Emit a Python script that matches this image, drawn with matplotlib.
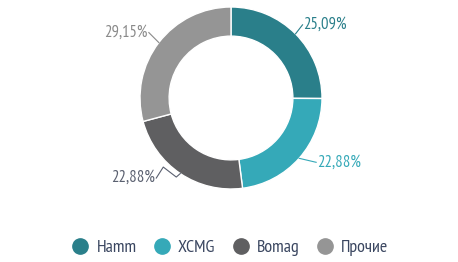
import numpy as np
import matplotlib.pyplot as plt
from matplotlib.lines import Line2D

# Market share data
brands = ["Hamm", "XCMG", "Bomag", "Прочие"]
shares = [25.09, 22.88, 22.88, 29.15]
labels = ["25,09%", "22,88%", "22,88%", "29,15%"]
colors = ["#2a7f8a", "#35a9b8", "#5f5f61", "#959595"]
label_colors = ["#2a7f8a", "#35a9b8", "#5a6070", "#8a8a8a"]

plt.rcParams["font.family"] = ["PT Sans Narrow", "DejaVu Sans"]

fig = plt.figure(figsize=(4.58, 2.62), dpi=100)
ax = fig.add_axes([0, 0, 1, 1])

cx, cy, R = 231, 164, 91
wedges, _ = ax.pie(shares, colors=colors, startangle=90, counterclock=False,
                   center=(cx, cy), radius=R, frame=True,
                   wedgeprops=dict(width=R * 0.32, edgecolor="white", linewidth=1))
ax.set_xlim(0, 458)
ax.set_ylim(0, 262)
ax.set_aspect("equal")
ax.axis("off")

# leader line paths (pixel offsets from the wedge's outer midpoint), last point = label anchor
leaders = [
    [(0, 0), (7, 9)],
    [(0, 0), (17, -4)],
    [(0, 0), (-4, -3.5), (-17, 6.5), (-24, -4.5)],
    [(0, 0), (-10, 10)],
]
for w, lab, col, path in zip(wedges, labels, label_colors, leaders):
    ang = np.deg2rad((w.theta1 + w.theta2) / 2)
    x0 = cx + R * np.cos(ang)
    y0 = cy + R * np.sin(ang)
    xs = [x0 + p[0] for p in path]
    ys = [y0 + p[1] for p in path]
    ax.plot(xs, ys, color=col, lw=0.8)
    right = path[-1][0] > 0
    ax.text(xs[-1] + (1 if right else -1), ys[-1], lab, color=col, fontsize=12,
            ha="left" if right else "right", va="center")

handles = [Line2D([], [], marker="o", ls="", markersize=11, color=c) for c in colors]
fig.legend(handles, brands, loc="center", bbox_to_anchor=(0.5, 1 - 248 / 262),
           ncol=4, frameon=False, fontsize=13, handletextpad=0.3, columnspacing=0.8,
           handlelength=1.2, labelcolor="#3a4660")

fig.savefig("out.png", dpi=100)
